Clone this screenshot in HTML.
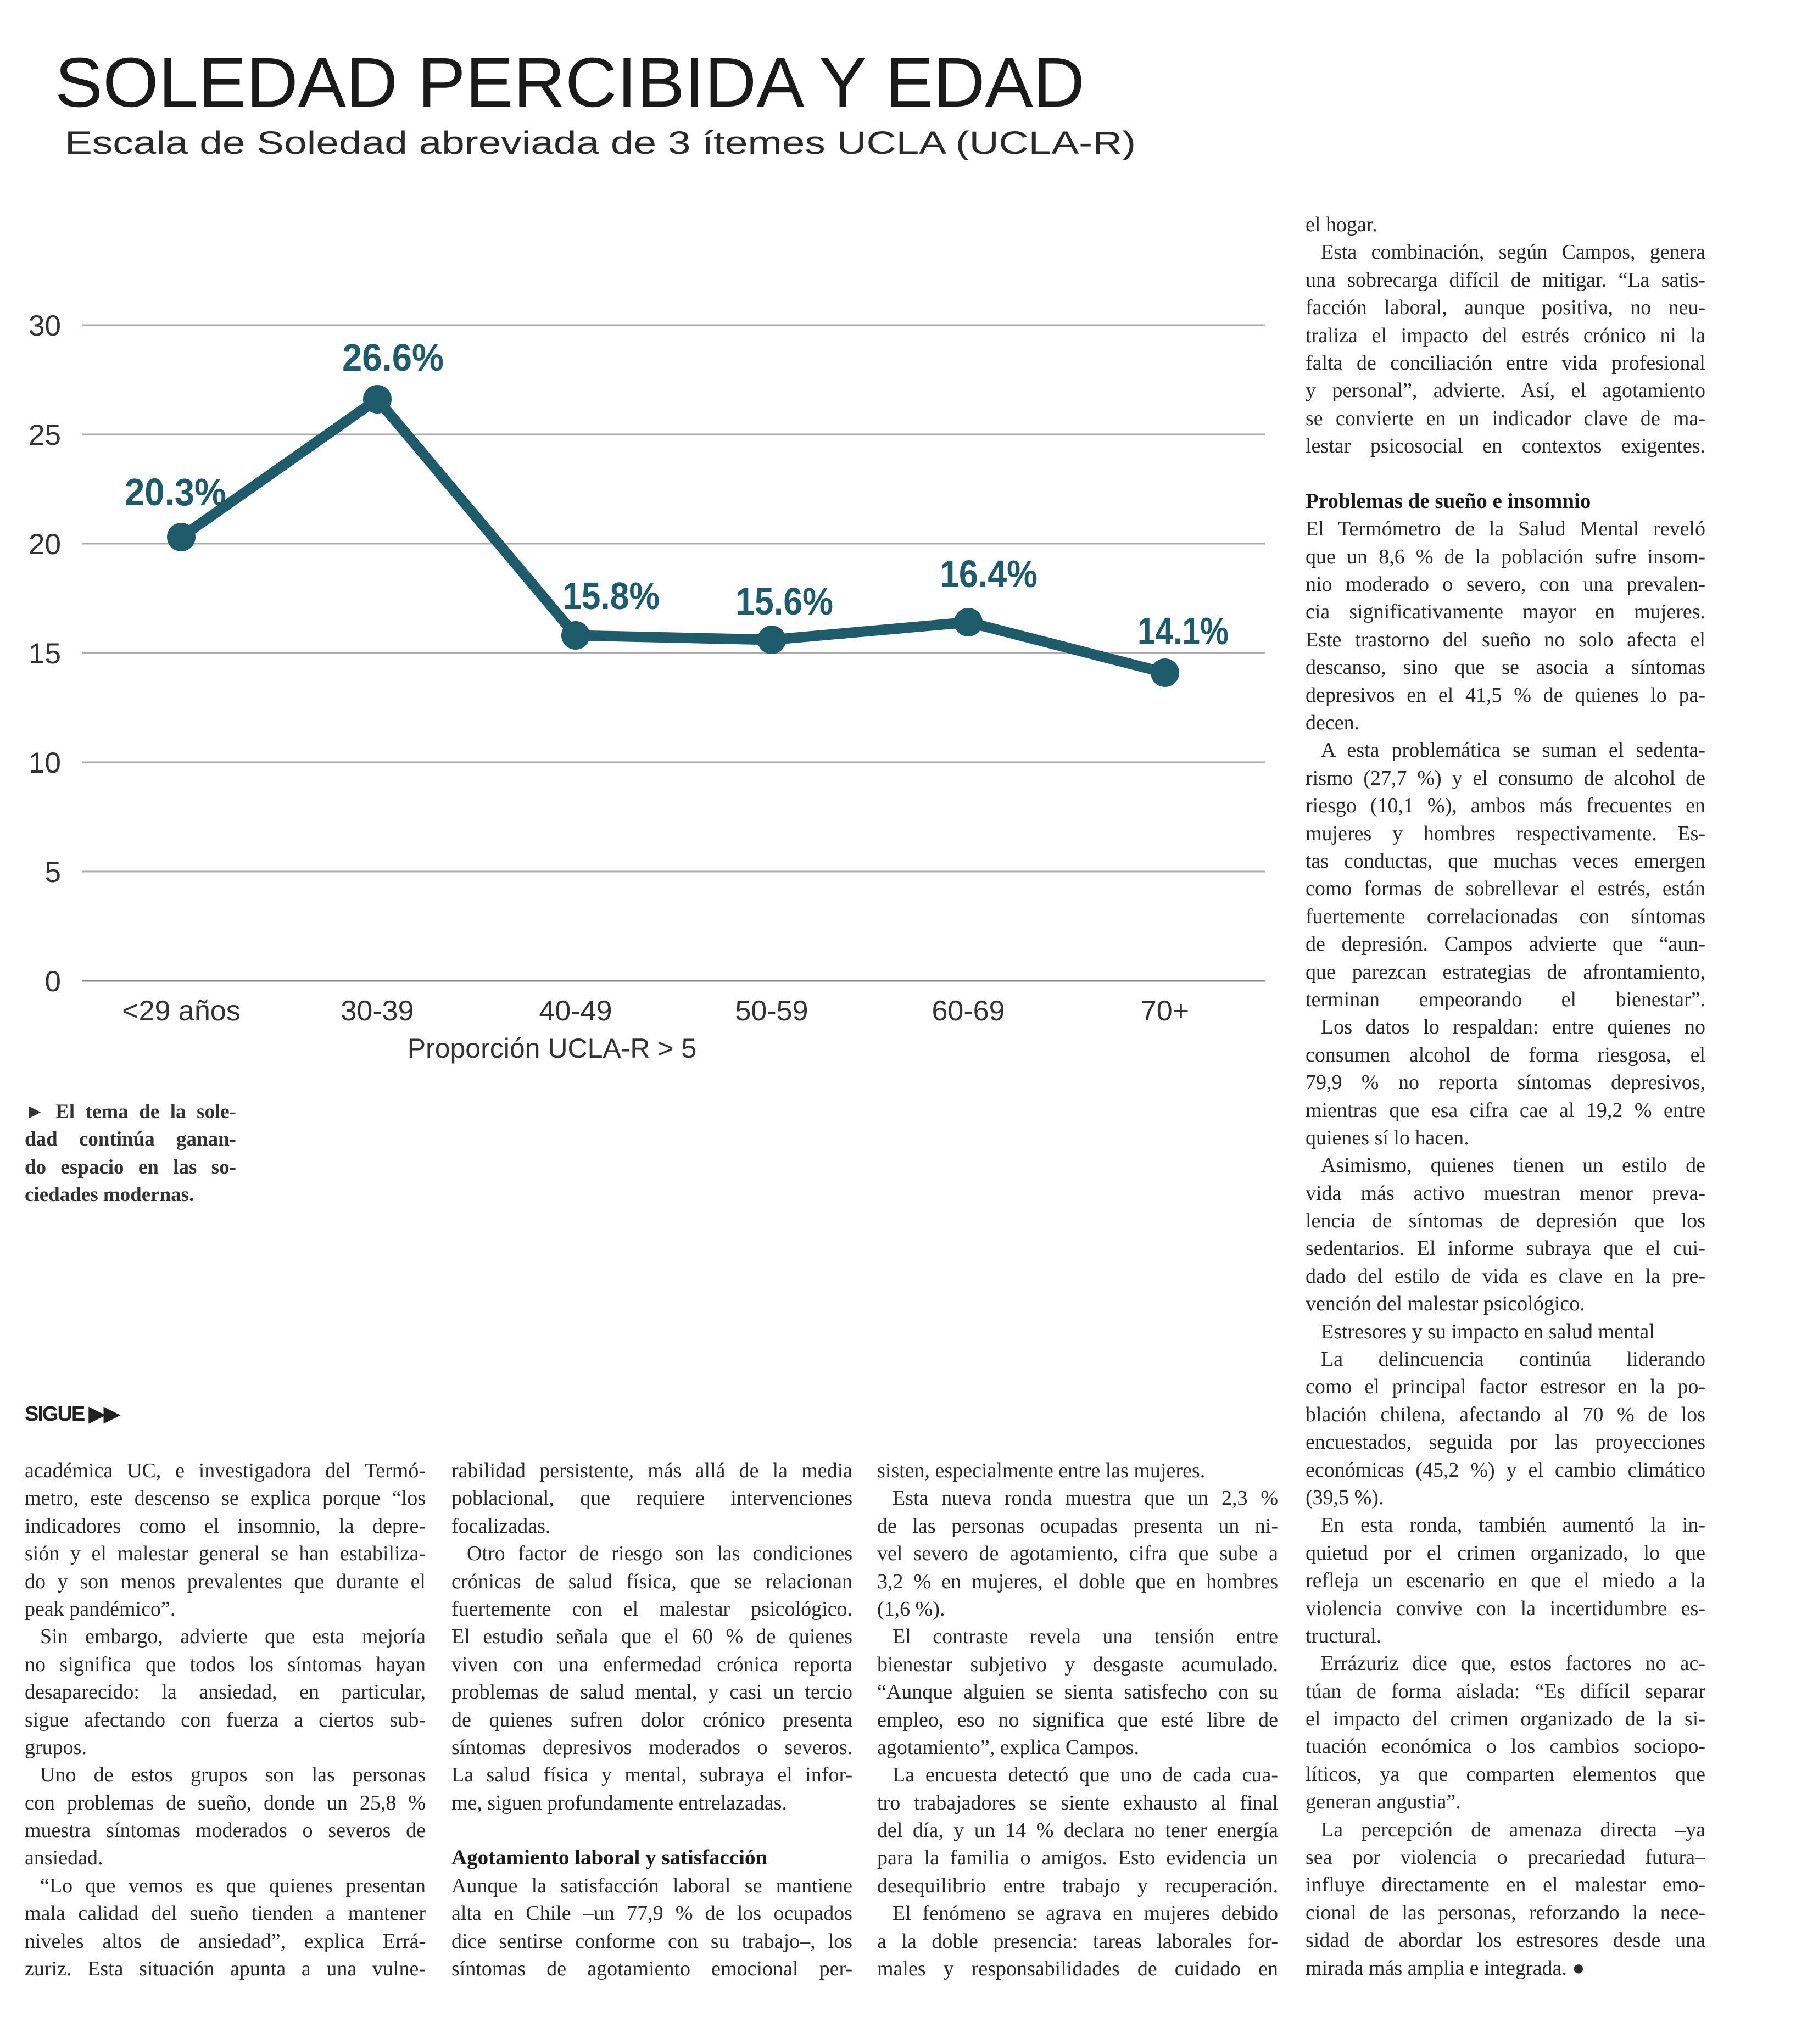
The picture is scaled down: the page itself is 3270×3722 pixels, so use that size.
<!DOCTYPE html>
<html><head><meta charset="utf-8">
<style>
html,body{margin:0;padding:0;background:#fff;}
body{width:3270px;height:3722px;position:relative;overflow:hidden;}
svg{position:absolute;left:0;top:0;}
.col{position:absolute;font-family:"Liberation Serif",serif;font-size:38px;line-height:50.4px;color:#2a2a2a;}
.col div{text-align:justify;text-align-last:justify;white-space:nowrap;overflow:visible;height:50.4px;}
.col div.l{text-align-last:left;}
.col div.i{padding-left:28px;}
.col div.h{font-weight:bold;font-size:39px;text-align-last:left;color:#1a1a1a;}
.cap{position:absolute;left:45px;top:2000px;width:385px;font-family:"Liberation Serif",serif;font-weight:bold;font-size:37px;line-height:50.4px;color:#333;}
.cap div{text-align:justify;text-align-last:justify;height:50.4px;white-space:nowrap;}
.cap div.l{text-align-last:left;}
.sigue{position:absolute;left:45px;top:2552px;font-family:"Liberation Sans",sans-serif;font-weight:bold;font-size:38px;letter-spacing:-2px;color:#222;}
</style></head><body>
<svg width="3270" height="3722" viewBox="0 0 3270 3722">
<text x="100" y="194" font-family="Liberation Sans, sans-serif" font-size="128" fill="#1a1a1a" textLength="1875" lengthAdjust="spacingAndGlyphs">SOLEDAD PERCIBIDA Y EDAD</text>
<text x="118" y="280" font-family="Liberation Sans, sans-serif" font-size="58" fill="#2a2a2a" textLength="1950" lengthAdjust="spacingAndGlyphs">Escala de Soledad abreviada de 3 ítemes UCLA (UCLA-R)</text>
<g stroke="#aaa" stroke-width="3">
<line x1="150" y1="592" x2="2303" y2="592"/>
<line x1="150" y1="791" x2="2303" y2="791"/>
<line x1="150" y1="990" x2="2303" y2="990"/>
<line x1="150" y1="1189" x2="2303" y2="1189"/>
<line x1="150" y1="1388" x2="2303" y2="1388"/>
<line x1="150" y1="1587" x2="2303" y2="1587"/>
<line x1="150" y1="1786" x2="2303" y2="1786" stroke="#888"/>
</g>
<g font-family="Liberation Sans, sans-serif" font-size="53" fill="#333" text-anchor="end">
<text x="111" y="611">30</text><text x="111" y="810">25</text><text x="111" y="1009">20</text>
<text x="111" y="1208">15</text><text x="111" y="1407">10</text><text x="111" y="1606">5</text><text x="111" y="1805">0</text>
</g>
<g font-family="Liberation Sans, sans-serif" font-size="52" fill="#333" text-anchor="middle">
<text x="330" y="1858">&lt;29 años</text><text x="687" y="1858">30-39</text><text x="1048" y="1858">40-49</text>
<text x="1405" y="1858">50-59</text><text x="1763" y="1858">60-69</text><text x="2121" y="1858">70+</text>
<text x="1005" y="1926" font-size="50">Proporción UCLA-R &gt; 5</text>
</g>
<polyline points="330,978 687,727 1048,1157 1405,1165 1763,1133 2121,1225" fill="none" stroke="#1e5b6b" stroke-width="19" stroke-linejoin="round"/>
<g fill="#1e5b6b">
<circle cx="330" cy="978" r="26"/><circle cx="687" cy="727" r="26"/><circle cx="1048" cy="1157" r="26"/>
<circle cx="1405" cy="1165" r="26"/><circle cx="1763" cy="1133" r="26"/><circle cx="2121" cy="1225" r="26"/>
</g>
<g font-family="Liberation Sans, sans-serif" font-weight="bold" font-size="70" fill="#1e5b6b">
<text x="227" y="920" textLength="185" lengthAdjust="spacingAndGlyphs">20.3%</text>
<text x="623" y="675" textLength="185" lengthAdjust="spacingAndGlyphs">26.6%</text>
<text x="1024" y="1109" textLength="177" lengthAdjust="spacingAndGlyphs">15.8%</text>
<text x="1339" y="1119" textLength="178" lengthAdjust="spacingAndGlyphs">15.6%</text>
<text x="1711" y="1069" textLength="178" lengthAdjust="spacingAndGlyphs">16.4%</text>
<text x="2071" y="1173" textLength="166" lengthAdjust="spacingAndGlyphs">14.1%</text>
</g>
</svg>

<div class="cap">
<div>► El tema de la sole-</div>
<div>dad continúa ganan-</div>
<div>do espacio en las so-</div>
<div class="l">ciedades modernas.</div>
</div>
<div class="sigue">SIGUE ▶▶</div>

<div class="col" style="left:2377px;top:384px;width:728px;">
<div class="l">el hogar.</div>
<div class="i">Esta combinación, según Campos, genera</div>
<div>una sobrecarga difícil de mitigar. “La satis-</div>
<div>facción laboral, aunque positiva, no neu-</div>
<div>traliza el impacto del estrés crónico ni la</div>
<div>falta de conciliación entre vida profesional</div>
<div>y personal”, advierte. Así, el agotamiento</div>
<div>se convierte en un indicador clave de ma-</div>
<div>lestar psicosocial en contextos exigentes.</div>
<div class="l"></div>
<div class="h">Problemas de sueño e insomnio</div>
<div>El Termómetro de la Salud Mental reveló</div>
<div>que un 8,6 % de la población sufre insom-</div>
<div>nio moderado o severo, con una prevalen-</div>
<div>cia significativamente mayor en mujeres.</div>
<div>Este trastorno del sueño no solo afecta el</div>
<div>descanso, sino que se asocia a síntomas</div>
<div>depresivos en el 41,5 % de quienes lo pa-</div>
<div class="l">decen.</div>
<div class="i">A esta problemática se suman el sedenta-</div>
<div>rismo (27,7 %) y el consumo de alcohol de</div>
<div>riesgo (10,1 %), ambos más frecuentes en</div>
<div>mujeres y hombres respectivamente. Es-</div>
<div>tas conductas, que muchas veces emergen</div>
<div>como formas de sobrellevar el estrés, están</div>
<div>fuertemente correlacionadas con síntomas</div>
<div>de depresión. Campos advierte que “aun-</div>
<div>que parezcan estrategias de afrontamiento,</div>
<div>terminan empeorando el bienestar”.</div>
<div class="i">Los datos lo respaldan: entre quienes no</div>
<div>consumen alcohol de forma riesgosa, el</div>
<div>79,9 % no reporta síntomas depresivos,</div>
<div>mientras que esa cifra cae al 19,2 % entre</div>
<div class="l">quienes sí lo hacen.</div>
<div class="i">Asimismo, quienes tienen un estilo de</div>
<div>vida más activo muestran menor preva-</div>
<div>lencia de síntomas de depresión que los</div>
<div>sedentarios. El informe subraya que el cui-</div>
<div>dado del estilo de vida es clave en la pre-</div>
<div class="l">vención del malestar psicológico.</div>
<div class="i l">Estresores y su impacto en salud mental</div>
<div class="i">La delincuencia continúa liderando</div>
<div>como el principal factor estresor en la po-</div>
<div>blación chilena, afectando al 70 % de los</div>
<div>encuestados, seguida por las proyecciones</div>
<div>económicas (45,2 %) y el cambio climático</div>
<div class="l">(39,5 %).</div>
<div class="i">En esta ronda, también aumentó la in-</div>
<div>quietud por el crimen organizado, lo que</div>
<div>refleja un escenario en que el miedo a la</div>
<div>violencia convive con la incertidumbre es-</div>
<div class="l">tructural.</div>
<div class="i">Errázuriz dice que, estos factores no ac-</div>
<div>túan de forma aislada: “Es difícil separar</div>
<div>el impacto del crimen organizado de la si-</div>
<div>tuación económica o los cambios sociopo-</div>
<div>líticos, ya que comparten elementos que</div>
<div class="l">generan angustia”.</div>
<div class="i">La percepción de amenaza directa –ya</div>
<div>sea por violencia o precariedad futura–</div>
<div>influye directamente en el malestar emo-</div>
<div>cional de las personas, reforzando la nece-</div>
<div>sidad de abordar los estresores desde una</div>
<div class="l">mirada más amplia e integrada. ●</div>
</div>

<div class="col" style="left:45px;top:2653px;width:730px;">
<div>académica UC, e investigadora del Termó-</div>
<div>metro, este descenso se explica porque “los</div>
<div>indicadores como el insomnio, la depre-</div>
<div>sión y el malestar general se han estabiliza-</div>
<div>do y son menos prevalentes que durante el</div>
<div class="l">peak pandémico”.</div>
<div class="i">Sin embargo, advierte que esta mejoría</div>
<div>no significa que todos los síntomas hayan</div>
<div>desaparecido: la ansiedad, en particular,</div>
<div>sigue afectando con fuerza a ciertos sub-</div>
<div class="l">grupos.</div>
<div class="i">Uno de estos grupos son las personas</div>
<div>con problemas de sueño, donde un 25,8 %</div>
<div>muestra síntomas moderados o severos de</div>
<div class="l">ansiedad.</div>
<div class="i">“Lo que vemos es que quienes presentan</div>
<div>mala calidad del sueño tienden a mantener</div>
<div>niveles altos de ansiedad”, explica Errá-</div>
<div>zuriz. Esta situación apunta a una vulne-</div>
</div>

<div class="col" style="left:822px;top:2653px;width:730px;">
<div>rabilidad persistente, más allá de la media</div>
<div>poblacional, que requiere intervenciones</div>
<div class="l">focalizadas.</div>
<div class="i">Otro factor de riesgo son las condiciones</div>
<div>crónicas de salud física, que se relacionan</div>
<div>fuertemente con el malestar psicológico.</div>
<div>El estudio señala que el 60 % de quienes</div>
<div>viven con una enfermedad crónica reporta</div>
<div>problemas de salud mental, y casi un tercio</div>
<div>de quienes sufren dolor crónico presenta</div>
<div>síntomas depresivos moderados o severos.</div>
<div>La salud física y mental, subraya el infor-</div>
<div class="l">me, siguen profundamente entrelazadas.</div>
<div class="l"></div>
<div class="h">Agotamiento laboral y satisfacción</div>
<div>Aunque la satisfacción laboral se mantiene</div>
<div>alta en Chile –un 77,9 % de los ocupados</div>
<div>dice sentirse conforme con su trabajo–, los</div>
<div>síntomas de agotamiento emocional per-</div>
</div>

<div class="col" style="left:1597px;top:2653px;width:730px;">
<div class="l">sisten, especialmente entre las mujeres.</div>
<div class="i">Esta nueva ronda muestra que un 2,3 %</div>
<div>de las personas ocupadas presenta un ni-</div>
<div>vel severo de agotamiento, cifra que sube a</div>
<div>3,2 % en mujeres, el doble que en hombres</div>
<div class="l">(1,6 %).</div>
<div class="i">El contraste revela una tensión entre</div>
<div>bienestar subjetivo y desgaste acumulado.</div>
<div>“Aunque alguien se sienta satisfecho con su</div>
<div>empleo, eso no significa que esté libre de</div>
<div class="l">agotamiento”, explica Campos.</div>
<div class="i">La encuesta detectó que uno de cada cua-</div>
<div>tro trabajadores se siente exhausto al final</div>
<div>del día, y un 14 % declara no tener energía</div>
<div>para la familia o amigos. Esto evidencia un</div>
<div>desequilibrio entre trabajo y recuperación.</div>
<div class="i">El fenómeno se agrava en mujeres debido</div>
<div>a la doble presencia: tareas laborales for-</div>
<div>males y responsabilidades de cuidado en</div>
</div>
</body></html>
